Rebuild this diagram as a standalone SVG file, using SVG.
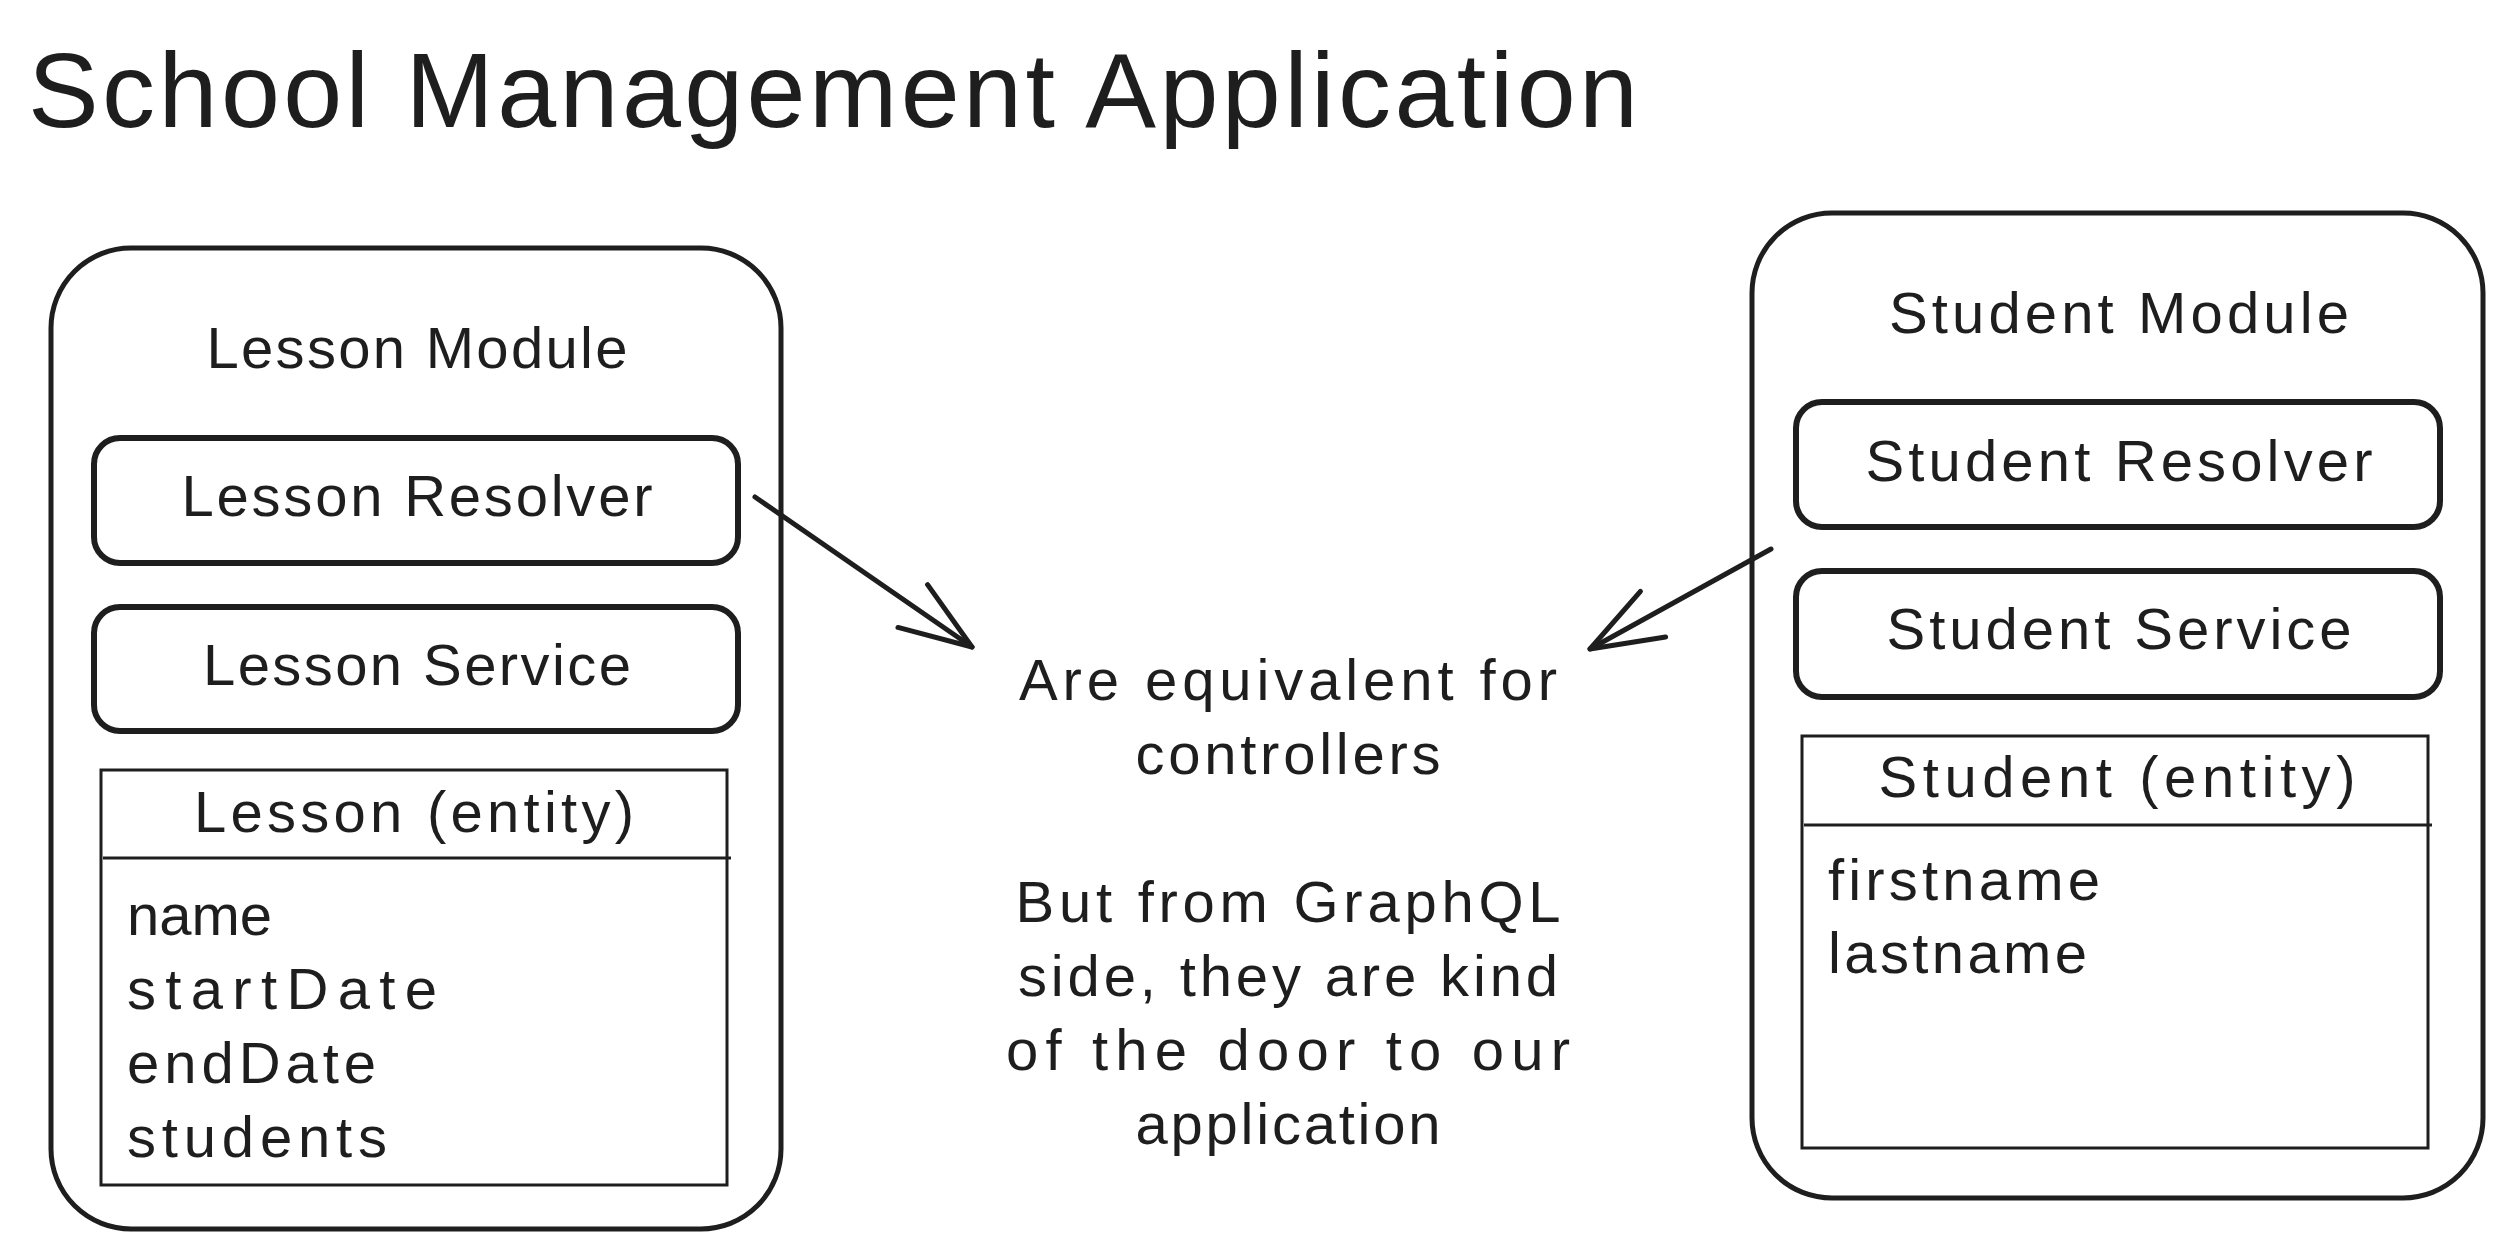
<svg xmlns="http://www.w3.org/2000/svg" width="2512" height="1260" viewBox="0 0 2512 1260">
  <style>
    .label { font-family: "Liberation Sans", Arial, sans-serif; font-size: 58px; fill: #1e1e1e; }
    .center { text-anchor: middle; }
    .title { font-family: "Liberation Sans", Arial, sans-serif; font-size: 106px; fill: #1e1e1e; }
    .module { fill: none; stroke: #1e1e1e; stroke-width: 5; stroke-linejoin: round; }
    .part { fill: none; stroke: #1e1e1e; stroke-width: 6; stroke-linejoin: round; }
    .entity { fill: none; stroke: #1e1e1e; stroke-width: 3; }
    .arrow { fill: none; stroke: #1e1e1e; stroke-width: 5; stroke-linecap: round; stroke-linejoin: round; }
  </style>
  <defs>
    <marker id="head" markerUnits="userSpaceOnUse" orient="auto" viewBox="-80 -34 86 68" refX="0" refY="0" markerWidth="86" markerHeight="68" overflow="visible">
      <path d="M-72,-26 L0,0 L-72,26" fill="none" stroke="#1e1e1e" stroke-width="5" stroke-linecap="round" stroke-linejoin="round"/>
    </marker>
  </defs>

  <rect width="2512" height="1260" fill="#ffffff"/>

  <text id="title" class="title" x="28" y="127" textLength="1610">School Management Application</text>

  <!-- Lesson module -->
  <g id="lesson-module">
    <rect class="module" x="51" y="248" width="730" height="981" rx="80"/>
    <text class="label center" x="417" y="368" textLength="421">Lesson Module</text>
  </g>
  <g id="lesson-resolver">
    <rect class="part" x="94" y="438" width="644" height="125" rx="26"/>
    <text class="label center" x="417" y="516" textLength="471">Lesson Resolver</text>
  </g>
  <g id="lesson-service">
    <rect class="part" x="94" y="607" width="644" height="124" rx="26"/>
    <text class="label center" x="417" y="685" textLength="428">Lesson Service</text>
  </g>
  <g id="lesson-entity">
    <rect class="entity" x="101" y="770" width="626" height="415"/>
    <line class="entity" x1="103" y1="858" x2="731" y2="858"/>
    <text class="label center" x="414" y="832" textLength="440">Lesson (entity)</text>
    <text class="label" x="127" y="935">name</text>
    <text class="label" x="127" y="1009" textLength="310">startDate</text>
    <text class="label" x="127" y="1083" textLength="249">endDate</text>
    <text class="label" x="127" y="1157" textLength="260">students</text>
  </g>

  <!-- Student module -->
  <g id="student-module">
    <rect class="module" x="1752" y="213" width="731" height="985" rx="80"/>
    <text class="label center" x="2119" y="333" textLength="460">Student Module</text>
  </g>
  <g id="student-resolver">
    <rect class="part" x="1796" y="402" width="644" height="125" rx="26"/>
    <text class="label center" x="2119" y="481" textLength="507">Student Resolver</text>
  </g>
  <g id="student-service">
    <rect class="part" x="1796" y="571" width="644" height="126" rx="26"/>
    <text class="label center" x="2119" y="649" textLength="465">Student Service</text>
  </g>
  <g id="student-entity">
    <rect class="entity" x="1802" y="736" width="626" height="412"/>
    <line class="entity" x1="1804" y1="825" x2="2432" y2="825"/>
    <text class="label center" x="2117" y="797" textLength="477">Student (entity)</text>
    <text class="label" x="1828" y="900" textLength="272">firstname</text>
    <text class="label" x="1828" y="973" textLength="259">lastname</text>
  </g>

  <!-- Note between the modules -->
  <g id="note">
    <text class="label center" x="1288" y="700" textLength="538">Are equivalent for</text>
    <text class="label center" x="1288" y="774" textLength="305">controllers</text>
    <text class="label center" x="1288" y="922" textLength="545">But from GraphQL</text>
    <text class="label center" x="1288" y="996" textLength="540">side, they are kind</text>
    <text class="label center" x="1288" y="1070" textLength="564">of the door to our</text>
    <text class="label center" x="1288" y="1144" textLength="305">application</text>
  </g>

  <!-- Connectors -->
  <g id="connectors">
    <path class="arrow" d="M755,497 L972,647" marker-end="url(#head)"/>
    <path class="arrow" d="M1771,549 L1590,649" marker-end="url(#head)"/>
  </g>
</svg>
